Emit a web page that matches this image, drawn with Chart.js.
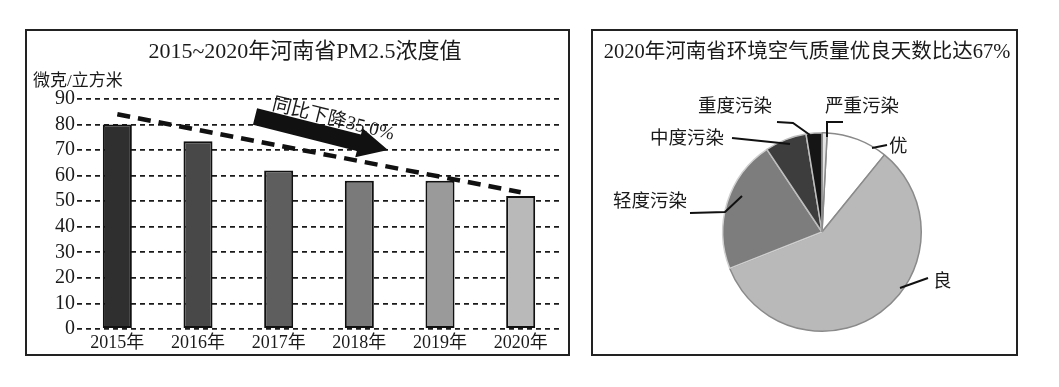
<!DOCTYPE html>
<html>
<head>
<meta charset="utf-8">
<script src="https://cdn.jsdelivr.net/npm/chart.js@4"></script>
<style>
  html, body { margin: 0; padding: 0; background: #fff; }
  body { width: 1059px; height: 387px; position: relative; overflow: hidden; }
  .panel { position: absolute; border: 2px solid #222; background: #fff; }
  #leftPanel { left: 25px; top: 29px; width: 541px; height: 323px; }
  #rightPanel { left: 591px; top: 29px; width: 423px; height: 323px; }
  canvas { display: block; }
</style>
</head>
<body>
<div class="panel" id="leftPanel"><canvas id="barChart" width="541" height="323"></canvas></div>
<div class="panel" id="rightPanel"><canvas id="pieChart" width="423" height="323"></canvas></div>
<script>
// bar chart data
const barTitle = '2015~2020年河南省PM2.5浓度值';
const unitLabel = '微克/立方米';
const years = ['2015年', '2016年', '2017年', '2018年', '2019年', '2020年'];
const pm25 = [80, 73.5, 62, 58, 58, 52];
const trend = [84, null, null, null, null, 53.5]; // only the two ends of the dashed line
const yTicks = [0, 10, 20, 30, 40, 50, 60, 70, 80, 90];
const arrowText = '同比下降35.0%';

// pie chart data
const pieTitle = '2020年河南省环境空气质量优良天数比达67%';
const levels = ['优', '良', '轻度污染', '中度污染', '重度污染', '严重污染'];
const shares = [10.0, 58.2, 21.6, 6.8, 2.6, 0.8];

const serif = "'Liberation Serif', 'Noto Sans CJK SC', serif";
const cjk = "'Noto Sans CJK SC', sans-serif";
const barColors = ['#2f2f2f', '#484848', '#5e5e5e', '#7a7a7a', '#9a9a9a', '#b9b9b9'];
const sliceColors = ['#ffffff', '#b9b9b9', '#7d7d7d', '#3d3d3d', '#151515', '#e6e6e6'];

const barDecor = {
  id: 'barDecor',
  afterDraw(chart) {
    const ctx = chart.ctx;
    ctx.save();
    ctx.fillStyle = '#1a1a1a';
    ctx.font = '22px ' + serif;
    ctx.textAlign = 'center';
    ctx.textBaseline = 'middle';
    ctx.fillText(barTitle, 278, 21);
    ctx.font = '17px ' + serif;
    ctx.textAlign = 'left';
    ctx.fillText(unitLabel, 6, 51);

    // big arrow with the text above it
    const x0 = 228, y0 = 85.5, x1 = 361, y1 = 119;
    const ang = Math.atan2(y1 - y0, x1 - x0);
    const len = Math.hypot(x1 - x0, y1 - y0);
    ctx.translate(x0, y0);
    ctx.rotate(ang);
    ctx.beginPath();
    ctx.moveTo(0, -8.5);
    ctx.lineTo(len - 30, -8.5);
    ctx.lineTo(len - 30, -15);
    ctx.lineTo(len, 0);
    ctx.lineTo(len - 30, 15);
    ctx.lineTo(len - 30, 8.5);
    ctx.lineTo(0, 8.5);
    ctx.closePath();
    ctx.fillStyle = '#111';
    ctx.fill();
    ctx.font = '19px ' + serif;
    ctx.textBaseline = 'alphabetic';
    ctx.fillStyle = '#1a1a1a';
    ctx.fillText(arrowText, 14, -11);
    ctx.restore();
  }
};

new Chart(document.getElementById('barChart'), {
  type: 'bar',
  data: {
    labels: years,
    datasets: [{
      type: 'line',
      data: trend,
      spanGaps: true,
      borderColor: '#111',
      borderWidth: 4.5,
      borderDash: [13, 8],
      pointRadius: 0,
      fill: false,
      order: 0
    }, {
      data: pm25,
      backgroundColor: barColors,
      borderColor: '#111',
      borderWidth: 2,
      borderSkipped: false,
      barPercentage: 0.36,
      categoryPercentage: 1,
      order: 1
    }]
  },
  options: {
    responsive: false,
    animation: false,
    devicePixelRatio: 1,
    layout: { padding: { top: 68, right: 7, left: 0, bottom: 0 } },
    plugins: { legend: { display: false }, tooltip: { enabled: false }, title: { display: false } },
    scales: {
      x: {
        grid: { display: false, drawTicks: false, tickLength: 0 },
        border: { display: false },
        ticks: { color: '#1a1a1a', font: { size: 18, family: serif }, padding: 3, maxRotation: 0 },
        afterFit(scale) { scale.height = 25; }
      },
      y: {
        min: 0,
        max: 90,
        afterBuildTicks(scale) { scale.ticks = yTicks.map(v => ({ value: v })); },
        ticks: { color: '#1a1a1a', font: { size: 20, family: serif }, padding: 2, autoSkip: false },
        grid: { color: '#1a1a1a', lineWidth: 1.8, drawTicks: false },
        border: { display: false, dash: [5, 4] },
        afterFit(scale) { scale.width = 50; }
      }
    }
  },
  plugins: [barDecor]
});

// leader lines and labels, as offsets from the pie centre
const leaders = [
  { pts: [[50, -84], [65, -87]], text: [67, -87] },
  { pts: [[78, 56], [106, 46]], text: [111, 48] },
  { pts: [[-132, -19], [-97, -20], [-80, -36]], text: [-209, -32] },
  { pts: [[-90, -94], [-32, -88]], text: [-172, -95] },
  { pts: [[-45, -110], [-29, -109], [-12, -97]], text: [-124, -127] },
  { pts: [[21, -110], [5, -110], [5, -95]], text: [3, -127] }
];

const pieDecor = {
  id: 'pieDecor',
  afterDraw(chart) {
    const ctx = chart.ctx;
    const arc = chart.getDatasetMeta(0).data[0];
    const cx = arc.x, cy = arc.y;
    ctx.save();
    ctx.fillStyle = '#1a1a1a';
    ctx.font = '20.5px ' + serif;
    ctx.textAlign = 'center';
    ctx.textBaseline = 'middle';
    ctx.fillText(pieTitle, 214, 22);

    ctx.strokeStyle = '#111';
    ctx.lineWidth = 2;
    ctx.font = '18.5px ' + cjk;
    ctx.textAlign = 'left';
    leaders.forEach((l, i) => {
      ctx.beginPath();
      l.pts.forEach((p, j) => {
        if (j === 0) ctx.moveTo(cx + p[0], cy + p[1]);
        else ctx.lineTo(cx + p[0], cy + p[1]);
      });
      ctx.stroke();
      ctx.fillText(levels[i], cx + l.text[0], cy + l.text[1]);
    });
    ctx.restore();
  }
};

new Chart(document.getElementById('pieChart'), {
  type: 'pie',
  data: {
    labels: levels,
    datasets: [{
      data: shares,
      backgroundColor: sliceColors,
      borderColor: ['#8a8a8a', '#8a8a8a', '#cfcfcf', '#bdbdbd', '#bdbdbd', '#8a8a8a'],
      borderWidth: 1.5
    }]
  },
  options: {
    responsive: false,
    animation: false,
    devicePixelRatio: 1,
    rotation: 3,
    layout: { padding: { left: 129, top: 101, right: 94, bottom: 22 } },
    plugins: { legend: { display: false }, tooltip: { enabled: false } }
  },
  plugins: [pieDecor]
});
</script>
</body>
</html>
